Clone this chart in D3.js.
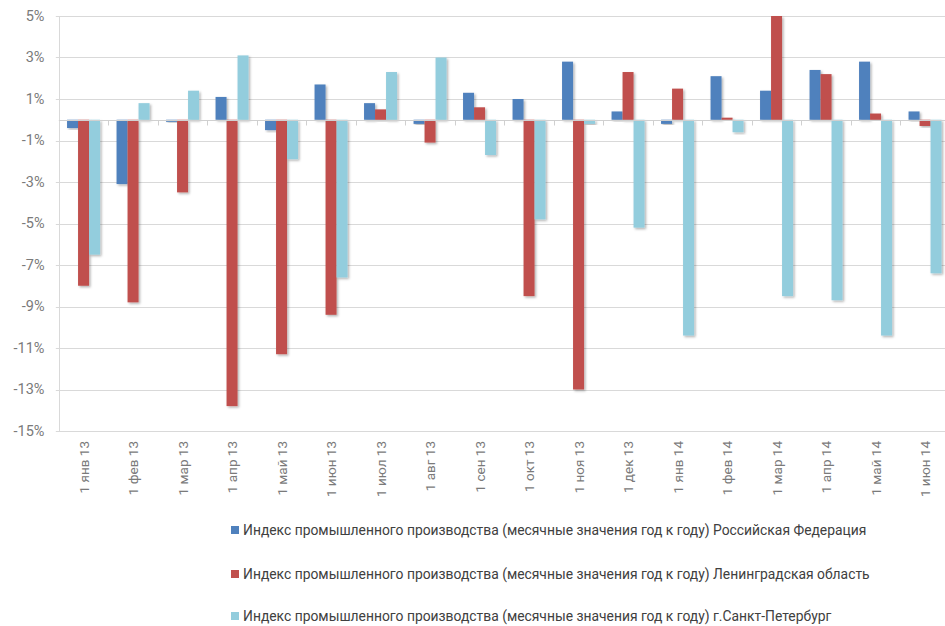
<!DOCTYPE html>
<html>
<head>
<meta charset="utf-8">
<script src="https://cdn.jsdelivr.net/npm/d3@7"></script>
<style>
  html, body { margin: 0; padding: 0; background: #fff; }
  svg { display: block; }
</style>
</head>
<body>
<svg id="chart" width="945" height="626"></svg>
<script>
// Monthly industrial production index, year over year, %
const categories = [
  "1 янв 13", "1 фев 13", "1 мар 13", "1 апр 13", "1 май 13", "1 июн 13",
  "1 июл 13", "1 авг 13", "1 сен 13", "1 окт 13", "1 ноя 13", "1 дек 13",
  "1 янв 14", "1 фев 14", "1 мар 14", "1 апр 14", "1 май 14", "1 июн 14"
];
const russia    = [-0.4, -3.1, -0.1,   1.1, -0.5,  1.7, 0.8, -0.2,  1.3,  1.0,   2.8,  0.4, -0.2,  2.1,  1.4,  2.4,   2.8,  0.4];
const leningrad = [-8.0, -8.8, -3.5, -13.8, -11.3, -9.4, 0.5, -1.1,  0.6, -8.5, -13.0,  2.3,  1.5,  0.1,  5.0,  2.2,   0.3, -0.3];
const spb       = [-6.5,  0.8,  1.4,   3.1, -1.9, -7.6, 2.3,  3.0, -1.7, -4.8,  -0.2, -5.2, -10.4, -0.6, -8.5, -8.7, -10.4, -7.4];
const seriesNames = [
  "Индекс промышленного производства (месячные значения год к году) Российская Федерация",
  "Индекс промышленного производства (месячные значения год к году) Ленинградская область",
  "Индекс промышленного производства (месячные значения год к году) г.Санкт-Петербург"
];
const yTicks = [5, 3, 1, -1, -3, -5, -7, -9, -11, -13, -15];

const colors = ["#4f81bd", "#c0504d", "#93cddd"];
const seriesValues = [russia, leningrad, spb];
const FONT = "Roboto, 'Liberation Sans', sans-serif";

const svg = d3.select("#chart");

const plot = { left: 58.8, right: 949.8, top: 16, bottom: 431 };

const y = d3.scaleLinear().domain([-15, 5]).range([plot.bottom, plot.top]);
const x0 = d3.scaleBand().domain(categories)
  .range([plot.left, plot.right])
  .paddingInner(1 / 3).paddingOuter(1 / 6);
const x1 = d3.scaleBand().domain(d3.range(3)).range([0, x0.bandwidth()]);
const step = x0.step();
const pad = step * x0.paddingOuter();

// soft shadow under the bars
const defs = svg.append("defs");
const f = defs.append("filter").attr("id", "shadow")
  .attr("x", "-30%").attr("y", "-10%").attr("width", "180%").attr("height", "130%");
f.append("feDropShadow").attr("dx", 1.5).attr("dy", 1.5)
  .attr("stdDeviation", 1.2).attr("flood-color", "#000").attr("flood-opacity", 0.3);

// horizontal gridlines
svg.append("g").selectAll("line").data(yTicks).join("line")
  .attr("x1", plot.left - 3).attr("x2", 945)
  .attr("y1", d => Math.round(y(d)) + 0.5).attr("y2", d => Math.round(y(d)) + 0.5)
  .attr("stroke", "#d9d9d9").attr("stroke-width", 1);

// value axis line
svg.append("line")
  .attr("x1", Math.round(plot.left) + 0.5).attr("x2", Math.round(plot.left) + 0.5)
  .attr("y1", plot.top).attr("y2", plot.bottom)
  .attr("stroke", "#d9d9d9");

// y tick labels
const yLabels = svg.append("g").selectAll("text").data(yTicks).join("text")
  .attr("x", 44.5).attr("y", d => y(d))
  .attr("text-anchor", "end").attr("dominant-baseline", "central")
  .attr("font-family", FONT).attr("font-size", 14.5).attr("fill", "#7a7a7a")
  .text(d => d + "%");

// bars
const groups = svg.append("g").selectAll("g").data(categories).join("g")
  .attr("transform", c => `translate(${x0(c)},0)`);
groups.selectAll("rect")
  .data((c, i) => seriesValues.map((vals, s) => ({ s, v: vals[i] })))
  .join("rect")
  .attr("x", d => x1(d.s))
  .attr("width", x1.bandwidth())
  .attr("y", d => y(Math.max(0, d.v)))
  .attr("height", d => Math.abs(y(d.v) - y(0)))
  .attr("fill", d => colors[d.s])
  .attr("filter", "url(#shadow)");

// category axis at zero with boundary ticks
const zeroY = Math.round(y(0)) + 0.5;
svg.append("line")
  .attr("x1", plot.left).attr("x2", 945)
  .attr("y1", zeroY).attr("y2", zeroY)
  .attr("stroke", "#d0d0d0");
svg.append("g").selectAll("line").data(categories.slice(1)).join("line")
  .attr("x1", c => Math.round(x0(c) - pad) + 0.5)
  .attr("x2", c => Math.round(x0(c) - pad) + 0.5)
  .attr("y1", zeroY).attr("y2", zeroY + 5)
  .attr("stroke", "#d0d0d0");

// rotated category labels
svg.append("g").selectAll("text").data(categories).join("text")
  .attr("transform", c => `translate(${x0(c) + x0.bandwidth() / 2},441) rotate(-90)`)
  .attr("text-anchor", "end").attr("dominant-baseline", "central")
  .attr("font-family", FONT).attr("font-size", 13.5).attr("fill", "#7a7a7a")
  .text(c => c);

// legend
const legendY = [530, 574, 616];
const legend = svg.append("g");
seriesNames.forEach((name, i) => {
  legend.append("rect")
    .attr("x", 231).attr("y", legendY[i] - 4).attr("width", 8).attr("height", 8)
    .attr("fill", colors[i]);
  legend.append("text")
    .attr("class", "legend-text")
    .attr("x", 243).attr("y", legendY[i])
    .attr("dominant-baseline", "central")
    .attr("font-family", FONT).attr("font-size", 15).attr("fill", "#404040")
    .text(name);
});

// fit legend font so that the first entry spans its room
const first = legend.select(".legend-text").node();
const w = first.getComputedTextLength();
const fs = 15 * 624 / w;
legend.selectAll(".legend-text").attr("font-size", fs);
</script>
</body>
</html>
